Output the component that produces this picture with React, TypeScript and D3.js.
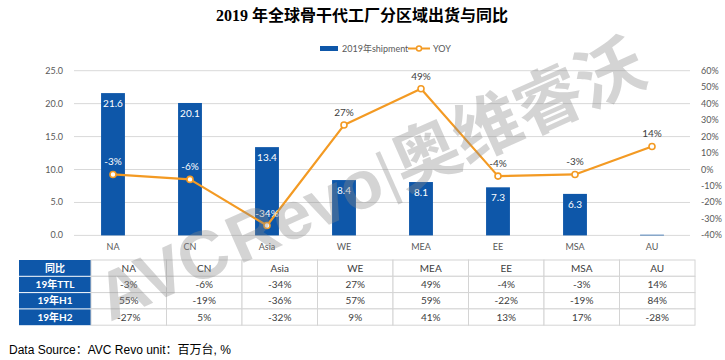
import React from 'react'
import {scaleBand, scaleLinear, line} from 'd3'

const categories = ['NA', 'CN', 'Asia', 'WE', 'MEA', 'EE', 'MSA', 'AU']
const shipment = [21.6, 20.1, 13.4, 8.4, 8.1, 7.3, 6.3, 0.1]
const yoy = [-0.03, -0.06, -0.34, 0.27, 0.49, -0.04, -0.03, 0.14]
const leftTicks = [0, 5, 10, 15, 20, 25]
const rightTicks = [-0.4, -0.3, -0.2, -0.1, 0, 0.1, 0.2, 0.3, 0.4, 0.5, 0.6]
const rowLabels = ['19年TTL', '19年H1', '19年H2']
const ttl = ['-3%', '-6%', '-34%', '27%', '49%', '-4%', '-3%', '14%']
const h1 = ['55%', '-19%', '-36%', '57%', '59%', '-22%', '-19%', '84%']
const h2 = ['-27%', '5%', '-32%', '9%', '41%', '13%', '17%', '-28%']

const BLUE = '#0E57A9'
const ORANGE = '#F39A23'
const FONT = 'Lato, "Noto Sans CJK SC", sans-serif'

const App = () => {
    const width = 725
    const height = 360

    const x = scaleBand().domain(categories).range([74.5, 690.5]).padding(0)
    const yLeft = scaleLinear().domain([0, 25]).range([235.4, 70.7])
    const yRight = scaleLinear().domain([-0.4, 0.6]).range([235.4, 70.7])
    const barW = x.bandwidth() * 0.31
    const cx = (c) => x(c) + x.bandwidth() / 2

    const yoyLine = line()
        .x((d, i) => cx(categories[i]))
        .y((d) => yRight(d))

    // table layout
    const tX = 19
    const firstW = 72
    const colW = (695 - tX - firstW) / categories.length
    const tTop = 260
    const rowH = 16.3
    const rows = [ttl, h1, h2]

    return (
        <svg width={width} height={height} style={{display: 'block', position: 'absolute', left: 0, top: 0}}>
            <rect width={width} height={height} fill="#fff" />
            <text x={362} y={21} textAnchor="middle" fontSize={16} fontWeight="bold"
                fontFamily='"Liberation Serif", "Noto Sans CJK SC", serif' fill="#000">
                2019 年全球骨干代工厂分区域出货与同比
            </text>

            {/* legend */}
            <g fontFamily={FONT} fontSize={9} fill="#595959">
                <rect x={320} y={46} width={18} height={5} fill={BLUE} />
                <text x={342} y={51.5}>2019年shipment</text>
                <line x1={408} x2={430} y1={48.5} y2={48.5} stroke={ORANGE} strokeWidth={2} />
                <circle cx={419} cy={48.5} r={2.5} fill="#fff" stroke={ORANGE} strokeWidth={1.5} />
                <text x={433} y={51.5}>YOY</text>
            </g>

            {/* grid + axes */}
            {leftTicks.map((t) => (
                <g key={t}>
                    <line x1={74} x2={690} y1={yLeft(t)} y2={yLeft(t)} stroke="#d9d9d9" strokeWidth={1} />
                    <text x={63} y={yLeft(t) + 3} textAnchor="end" fontFamily={FONT} fontSize={9} fill="#595959">
                        {t.toFixed(1)}
                    </text>
                </g>
            ))}
            {rightTicks.map((t) => (
                <text key={t} x={701} y={yRight(t) + 3} fontFamily={FONT} fontSize={9} fill="#595959">
                    {Math.round(t * 100) + '%'}
                </text>
            ))}
            {categories.map((c) => (
                <text key={c} x={cx(c)} y={250} textAnchor="middle" fontFamily={FONT} fontSize={9} fill="#595959">
                    {c}
                </text>
            ))}

            {/* bars */}
            {shipment.map((v, i) => (
                <g key={i}>
                    <rect x={cx(categories[i]) - barW / 2} y={yLeft(v)} width={barW}
                        height={yLeft(0) - yLeft(v)} fill={BLUE} />
                    {v > 1 && (
                        <text x={cx(categories[i])} y={yLeft(v) + 14} textAnchor="middle"
                            fontFamily={FONT} fontSize={10} fill="#fff">
                            {v.toFixed(1)}
                        </text>
                    )}
                </g>
            ))}

            {/* yoy line */}
            <path d={yoyLine(yoy)} fill="none" stroke={ORANGE} strokeWidth={2.2} strokeLinejoin="round" />
            {yoy.map((v, i) => {
                const onBar = yRight(v) - 12 > yLeft(shipment[i])
                return (
                    <g key={i}>
                        <circle cx={cx(categories[i])} cy={yRight(v)} r={3} fill="#fff" stroke={ORANGE} strokeWidth={1.6} />
                        <text x={cx(categories[i])} y={yRight(v) - 9} textAnchor="middle" fontFamily={FONT}
                            fontSize={10} fill={onBar ? '#fff' : '#404040'}>
                            {Math.round(v * 100) + '%'}
                        </text>
                    </g>
                )
            })}

            {/* table */}
            <g fontFamily={FONT} fontSize={10}>
                <rect x={tX} y={tTop} width={firstW} height={rowH * 4} fill={BLUE} />
                {[1, 2, 3].map((r) => (
                    <line key={r} x1={tX} x2={tX + firstW} y1={tTop + r * rowH} y2={tTop + r * rowH} stroke="#fff" strokeWidth={1} />
                ))}
                <text x={tX + firstW / 2} y={tTop + rowH / 2 + 3.5} textAnchor="middle" fill="#fff" fontWeight="bold">同比</text>
                {rowLabels.map((l, r) => (
                    <text key={l} x={tX + firstW / 2} y={tTop + (r + 1.5) * rowH + 3.5} textAnchor="middle" fill="#fff" fontWeight="bold">
                        {l}
                    </text>
                ))}
                {categories.map((c, j) => {
                    const x0 = tX + firstW + j * colW
                    return (
                        <g key={c}>
                            {[0, 1, 2, 3].map((r) => (
                                <rect key={r} x={x0} y={tTop + r * rowH} width={colW} height={rowH}
                                    fill="#fff" stroke="#d4d4d4" strokeWidth={1} />
                            ))}
                            <text x={x0 + colW / 2} y={tTop + rowH / 2 + 3.5} textAnchor="middle" fill="#404040">{c}</text>
                            {rows.map((row, r) => (
                                <text key={r} x={x0 + colW / 2} y={tTop + (r + 1.5) * rowH + 3.5} textAnchor="middle" fill="#404040">
                                    {row[j]}
                                </text>
                            ))}
                        </g>
                    )
                })}
            </g>

            <text x={9} y={354} fontFamily='"Liberation Sans", "Noto Sans CJK SC", sans-serif' fontSize={12} fill="#000">
                Data Source：AVC Revo unit：百万台, %
            </text>

            {/* watermark */}
            <g transform="translate(370,180) rotate(-24)" opacity={0.36}>
                <text x={0} y={0} textAnchor="middle" dominantBaseline="central" fontSize={68} fontWeight="bold"
                    fontFamily='"Liberation Sans", "Noto Sans CJK SC", sans-serif' fill="#8a8a8a" letterSpacing={-1}>
                    AVC<tspan dx={6}>Revo</tspan><tspan fontWeight="normal" fontSize={60} dx={2}>|</tspan><tspan dx={2}>奥维睿沃</tspan>
                </text>
            </g>
        </svg>
    )
}

export default App
